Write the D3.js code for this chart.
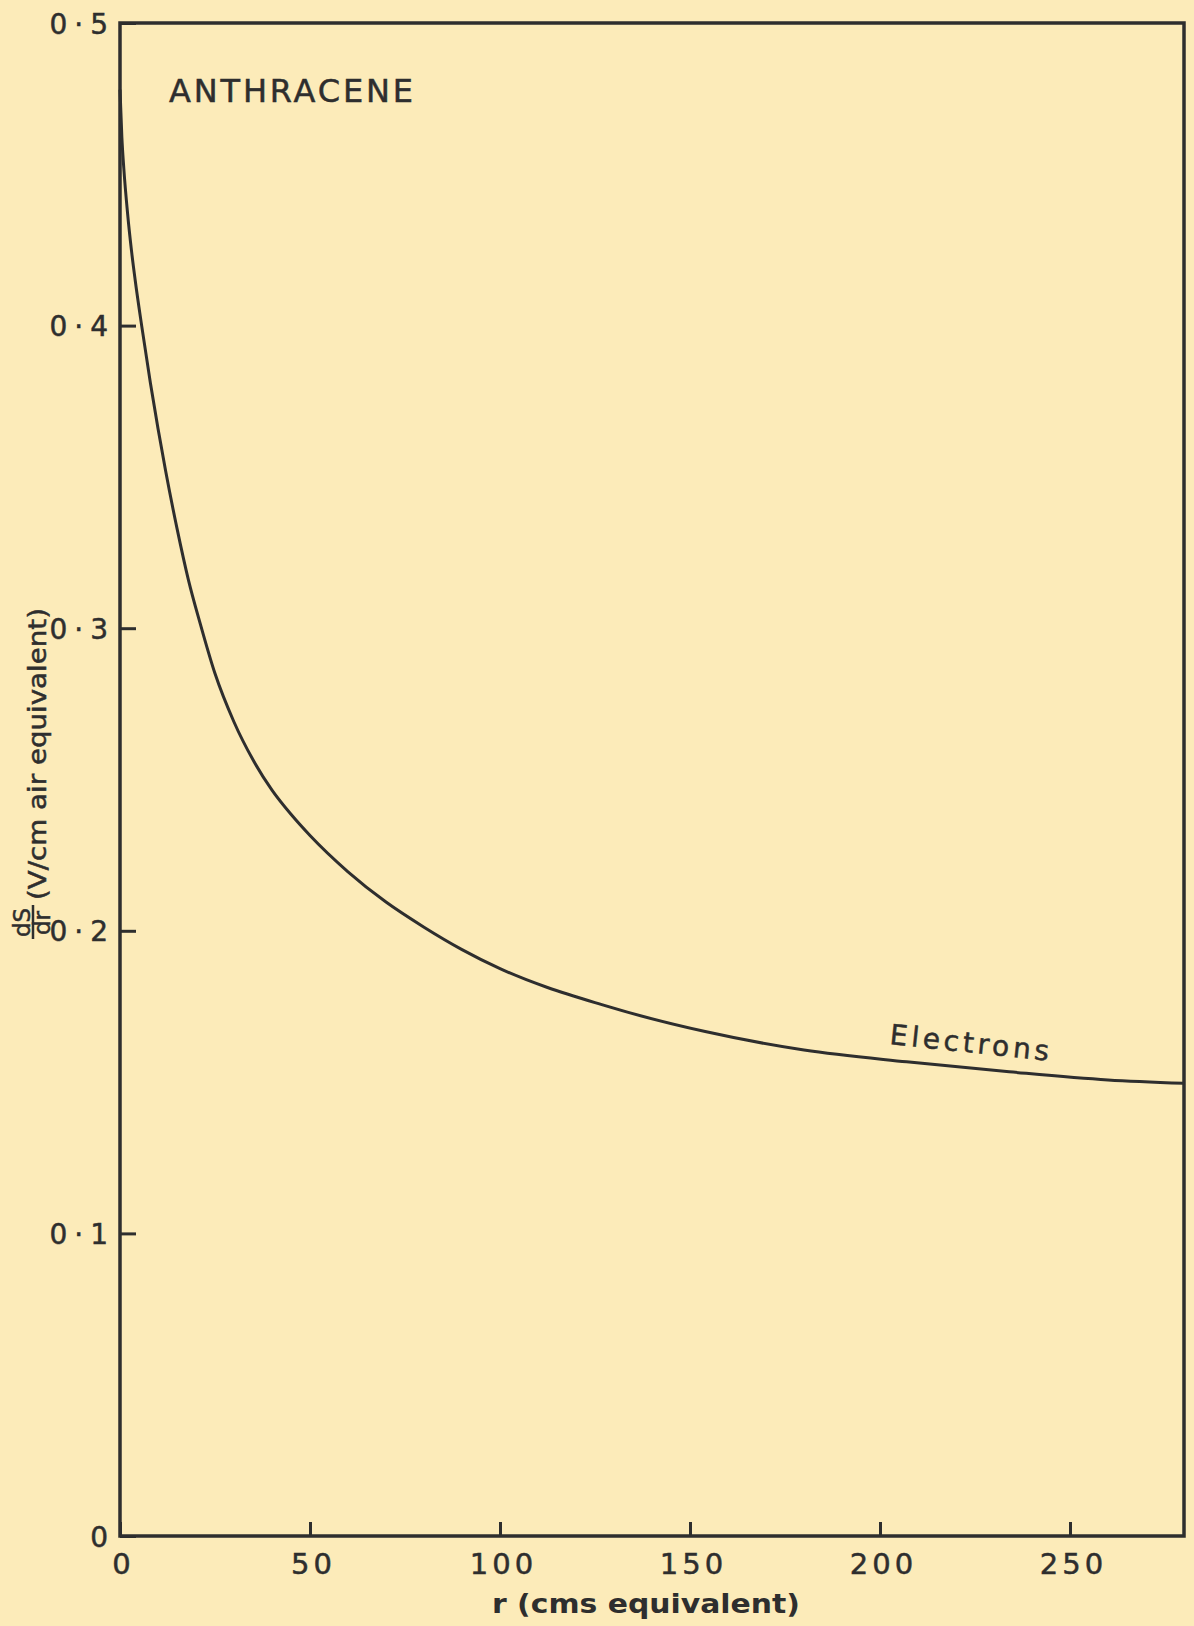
<!DOCTYPE html>
<html lang="en">

<head>
  <meta charset="UTF-8">
  <title>Anthracene dS/dr</title>
  <script src="https://d3js.org/d3.v7.min.js"></script>
  <style>
    body { margin: 0; background: #fcebb9; }
    text { font-family: "DejaVu Sans", sans-serif; fill: #2e2e2e; stroke: #2e2e2e; stroke-width: 0.5px; }
  </style>
</head>

<body>
  <script>
    // data
    const rValues = [0, 0.5, 1, 2, 3, 4, 5.7, 8, 10, 12, 15, 18, 21, 25, 30, 35, 40, 45, 50, 60, 70, 80, 90, 100, 127, 154, 180, 207, 234, 260, 280];
    const dsdrValues = [0.478, 0.462, 0.452, 0.437, 0.425, 0.415, 0.400, 0.381, 0.366, 0.352, 0.333, 0.316, 0.302, 0.285, 0.269, 0.2565, 0.2465, 0.2385, 0.2315, 0.2195, 0.2095, 0.2012, 0.1938, 0.1875, 0.1755, 0.1667, 0.1606, 0.1567, 0.1534, 0.1507, 0.1496];
    const xTicks = [0, 50, 100, 150, 200, 250];
    const yTicks = [0, 0.1, 0.2, 0.3, 0.4, 0.5];
    const yTickLabels = ["0", "0·1", "0·2", "0·3", "0·4", "0·5"];

    const width = 1194;
    const height = 1626;
    const margin = { top: 23, right: 10, bottom: 90, left: 120 };
    const ink = "#2e2e2e";

    let svg = d3.select("body")
      .append("svg")
      .attr("width", width)
      .attr("height", height);

    svg.append("rect")
      .attr("width", width)
      .attr("height", height)
      .attr("fill", "#fcebb9");

    const x = d3.scaleLinear()
      .domain([0, 280])
      .range([margin.left, width - margin.right]);

    const y = d3.scaleLinear()
      .domain([0, 0.5])
      .range([height - margin.bottom, margin.top]);

    // x axis, ticks pointing inwards
    const gx = svg.append("g")
      .attr("transform", `translate(0,${y(0)})`)
      .call(d3.axisBottom(x).tickValues(xTicks).tickSize(-14).tickFormat(d3.format("d")));
    gx.select(".domain").remove();
    gx.selectAll("line").attr("stroke", ink).attr("stroke-width", 3);
    gx.selectAll("text")
      .attr("y", 17)
      .attr("dx", "3px")
      .style("font-size", "29px")
      .style("letter-spacing", "4px");

    // y axis
    const gy = svg.append("g")
      .attr("transform", `translate(${x(0)},0)`)
      .call(d3.axisLeft(y).tickValues(yTicks).tickSize(-16).tickFormat((d, i) => yTickLabels[i]));
    gy.select(".domain").remove();
    gy.selectAll("line").attr("stroke", ink).attr("stroke-width", 3);
    gy.selectAll("text")
      .attr("x", -5)
      .attr("dy", "0.36em")
      .style("font-size", "28px")
      .style("letter-spacing", "7px");

    // frame
    svg.append("rect")
      .attr("x", x(0))
      .attr("y", y(0.5))
      .attr("width", x(280) - x(0))
      .attr("height", y(0) - y(0.5))
      .attr("fill", "none")
      .attr("stroke", ink)
      .attr("stroke-width", 3.5);

    // curve
    const line = d3.line()
      .x((d, i) => x(rValues[i]))
      .y(d => y(d))
      .curve(d3.curveMonotoneX);

    svg.append("path")
      .datum(dsdrValues)
      .attr("d", line)
      .attr("fill", "none")
      .attr("stroke", ink)
      .attr("stroke-width", 3);

    svg.append("text")
      .attr("x", 169)
      .attr("y", 102)
      .attr("textLength", 244)
      .attr("lengthAdjust", "spacing")
      .style("font-size", "32px")
      .text("ANTHRACENE");

    svg.append("text")
      .attr("transform", "translate(889,1044) rotate(6)")
      .attr("textLength", 160)
      .attr("lengthAdjust", "spacing")
      .style("font-size", "28px")
      .text("Electrons");

    // x label
    svg.append("text")
      .attr("x", 492)
      .attr("y", 1613)
      .attr("textLength", 308)
      .attr("lengthAdjust", "spacingAndGlyphs")
      .style("font-size", "27px")
      .style("font-weight", "bold")
      .style("stroke-width", 0)
      .text("r (cms equivalent)");

    // y label: dS/dr fraction then units, rotated
    const ylab = svg.append("g")
      .attr("transform", "translate(46,939) rotate(-90)");
    ylab.append("text")
      .attr("x", 2)
      .attr("y", -16)
      .style("font-size", "23px")
      .text("dS");
    ylab.append("line")
      .attr("x1", 0)
      .attr("x2", 34)
      .attr("y1", -13)
      .attr("y2", -13)
      .attr("stroke", ink)
      .attr("stroke-width", 2.5);
    ylab.append("text")
      .attr("x", 4)
      .attr("y", 4)
      .style("font-size", "23px")
      .text("dr");
    ylab.append("text")
      .attr("x", 39)
      .attr("y", 0)
      .attr("textLength", 292)
      .attr("lengthAdjust", "spacingAndGlyphs")
      .style("font-size", "25px")
      .text("(V/cm air equivalent)");
  </script>
</body>

</html>
